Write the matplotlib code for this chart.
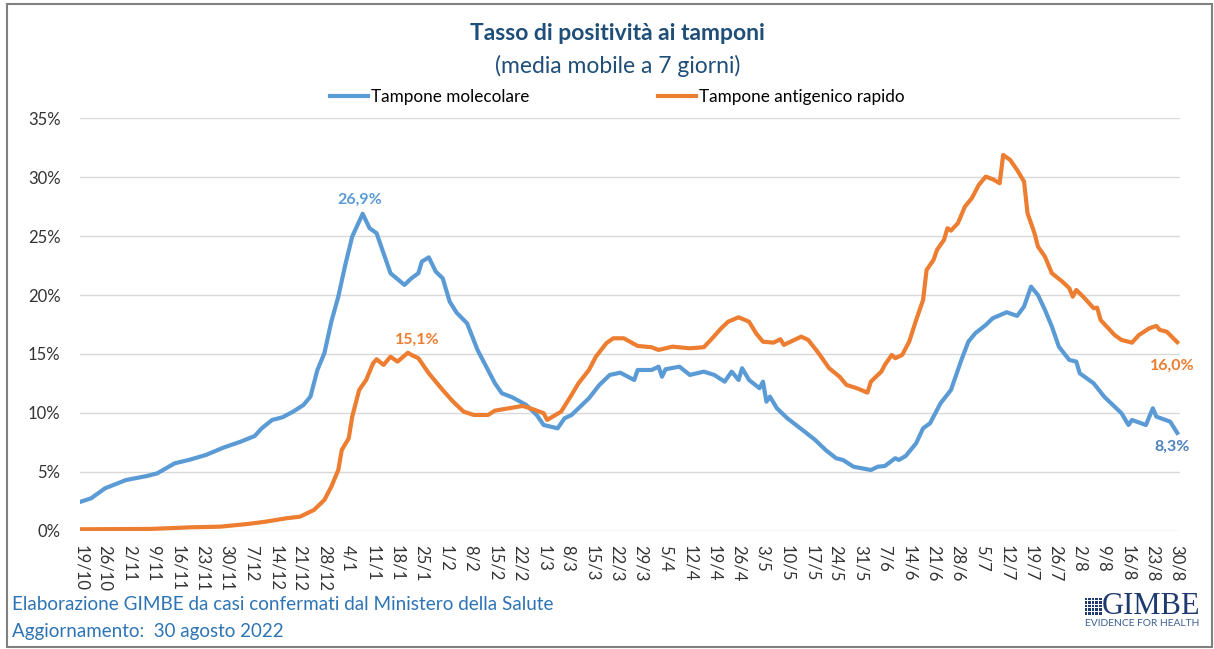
import matplotlib
matplotlib.use("Agg")
import matplotlib.pyplot as plt
from matplotlib.patches import Rectangle

plt.rcParams['font.family'] = ['Lato', 'DejaVu Sans']

# asse x: giorni dal 19/10/2021 al 30/08/2022, etichette settimanali
tick_labels = ["19/10", "26/10", "2/11", "9/11", "16/11", "23/11", "30/11", "7/12",
               "14/12", "21/12", "28/12", "4/1", "11/1", "18/1", "25/1", "1/2", "8/2",
               "15/2", "22/2", "1/3", "8/3", "15/3", "22/3", "29/3", "5/4", "12/4",
               "19/4", "26/4", "3/5", "10/5", "17/5", "24/5", "31/5", "7/6", "14/6",
               "21/6", "28/6", "5/7", "12/7", "19/7", "26/7", "2/8", "9/8", "16/8",
               "23/8", "30/8"]

# tampone molecolare (giorno, %)
mol_days = [0, 3, 7, 13, 19, 22, 27, 31, 36, 41, 46, 50, 52, 55, 58, 61, 64, 66, 68, 70,
            72, 74, 76, 78, 81, 83, 85, 87, 89, 93, 95, 97, 98, 100, 102, 104, 106, 108,
            111, 114, 117, 119, 121, 124, 128, 131, 133, 137, 139, 141, 144, 146, 149,
            152, 155, 159, 160, 164, 166, 167, 168, 172, 175, 179, 182, 185, 187, 189,
            190, 192, 195, 196, 197, 198, 200, 203, 208, 211, 214, 217, 219, 222, 227,
            229, 231, 234, 235, 237, 240, 242, 244, 247, 250, 253, 255, 257, 260, 262,
            266, 269, 271, 273, 275, 277, 279, 281, 284, 286, 287, 291, 294, 296, 299,
            301, 302, 306, 308, 309, 313, 315]
mol_vals = [2.46, 2.75, 3.6, 4.3, 4.64, 4.87, 5.72, 6.0, 6.43, 7.05, 7.56, 8.04, 8.69, 9.4,
            9.63, 10.1, 10.67, 11.38, 13.64, 15.06, 17.74, 19.86, 22.55, 24.96, 26.9,
            25.67, 25.25, 23.55, 21.85, 20.86, 21.42, 21.85, 22.84, 23.2, 21.99, 21.42,
            19.44, 18.5, 17.6, 15.34, 13.64, 12.51, 11.66, 11.32, 10.67, 9.82, 8.97, 8.69,
            9.54, 9.82, 10.67, 11.24, 12.37, 13.22, 13.41, 12.79, 13.64, 13.64, 13.92,
            13.07, 13.7, 13.92, 13.22, 13.5, 13.22, 12.65, 13.5, 12.79, 13.79, 12.79,
            12.09, 12.65, 10.95, 11.38, 10.39, 9.54, 8.4, 7.7, 6.85, 6.15, 6.0, 5.43, 5.15,
            5.43, 5.49, 6.15, 6.0, 6.34, 7.42, 8.69, 9.12, 10.81, 11.94, 14.49, 16.04,
            16.76, 17.46, 18.03, 18.54, 18.23, 19.02, 20.71, 20.0, 18.74, 17.32, 15.62,
            14.49, 14.35, 13.36, 12.51, 11.38, 10.81, 9.97, 8.97, 9.4, 8.97, 10.39, 9.68,
            9.25, 8.3]

# tampone antigenico rapido (giorno, %)
ant_days = [0, 20, 32, 40, 48, 53, 59, 63, 67, 70, 72, 74, 75, 77, 78, 80, 82, 84, 85, 87,
            89, 91, 94, 95, 97, 100, 104, 107, 110, 113, 117, 119, 123, 127, 130, 133,
            134, 138, 141, 143, 146, 148, 151, 153, 156, 160, 164, 166, 170, 175, 179,
            181, 184, 186, 189, 192, 194, 196, 199, 201, 202, 207, 209, 212, 215, 218,
            220, 223, 226, 227, 230, 231, 233, 234, 236, 238, 240, 242, 243, 245, 246,
            248, 249, 250, 252, 254, 256, 258, 260, 262, 264, 265, 267, 269, 271, 272,
            274, 275, 277, 279, 282, 284, 285, 286, 288, 291, 292, 293, 297, 299, 302,
            304, 307, 309, 310, 312, 315]
ant_vals = [0.12, 0.15, 0.29, 0.34, 0.57, 0.76, 1.05, 1.19, 1.76, 2.61, 3.74, 5.15, 6.85,
            7.84, 9.68, 11.94, 12.79, 14.21, 14.55, 14.07, 14.77, 14.35, 15.1, 14.92,
            14.64, 13.36, 11.94, 10.95, 10.1, 9.82, 9.82, 10.19, 10.39, 10.59, 10.3, 9.97,
            9.4, 10.1, 11.52, 12.51, 13.64, 14.77, 15.91, 16.33, 16.33, 15.68, 15.57,
            15.34, 15.62, 15.48, 15.57, 16.19, 17.18, 17.74, 18.11, 17.74, 16.76, 16.04,
            15.96, 16.25, 15.77, 16.47, 16.19, 15.06, 13.79, 13.07, 12.37, 12.09, 11.72,
            12.65, 13.5, 14.07, 14.92, 14.64, 14.92, 16.04, 17.88, 19.58, 22.13, 22.98,
            23.83, 24.68, 25.67, 25.47, 26.1, 27.5, 28.22, 29.35, 30.05, 29.83, 29.49,
            31.89, 31.47, 30.62, 29.63, 26.94, 25.25, 24.11, 23.26, 21.85, 21.14, 20.58,
            19.86, 20.43, 19.86, 18.88, 18.93, 17.88, 16.61, 16.19, 15.96, 16.61, 17.18,
            17.38, 17.04, 16.89, 16.0]

blue = "#5b9bd5"
orange = "#ed7d31"
navy = "#1f4e79"

fig = plt.figure(figsize=(12.14, 6.49), dpi=100)
ax = fig.add_axes([80 / 1214, 1 - 530.7 / 649, 1100 / 1214, (530.7 - 118.3) / 649])

l1, = ax.plot(mol_days, mol_vals, color=blue, lw=3, solid_joinstyle='round')
l2, = ax.plot(ant_days, ant_vals, color=orange, lw=3, solid_joinstyle='round')

ax.set_xlim(-0.2, 315.8)
ax.set_ylim(0, 35)
ax.set_yticks(range(0, 36, 5))
ax.set_yticklabels([f"{v}%" for v in range(0, 36, 5)])
ax.set_xticks(range(0, 316, 7))
ax.set_xticklabels(tick_labels, rotation=-90, va='top', ha='center')
ax.tick_params(axis='both', length=0, labelsize=12, labelcolor='#333333')
ax.tick_params(axis='y', pad=14)
ax.tick_params(axis='x', pad=10)
ax.grid(axis='y', color='#d9d9d9', lw=1)
ax.set_axisbelow(True)
for s in ax.spines.values():
    s.set_visible(False)

# etichette dei valori
ax.annotate("26,9%", (81, 26.9), xytext=(-2, 10), textcoords='offset points',
            ha='center', va='center', color=blue, fontsize=11.5, fontweight='bold')
ax.annotate("15,1%", (94, 15.1), xytext=(7, 9.5), textcoords='offset points',
            ha='center', va='center', color=orange, fontsize=11.5, fontweight='bold')
ax.annotate("16,0%", (315, 16.0), xytext=(-3.5, -17), textcoords='offset points',
            ha='center', va='center', color=orange, fontsize=11.5, fontweight='bold')
ax.annotate("8,3%", (315, 8.3), xytext=(-4, -10), textcoords='offset points',
            ha='center', va='center', color="#4f81bd", fontsize=11.5, fontweight='bold')

# titolo e legenda
fig.text(0.5087, 1 - 33 / 649, "Tasso di positività ai tamponi", ha='center', va='center',
         fontsize=16.5, fontweight='bold', color=navy)
fig.text(0.5087, 1 - 66 / 649, "(media mobile a 7 giorni)", ha='center', va='center',
         fontsize=16.5, color=navy)
fig.legend([l1, l2], ["Tampone molecolare", "Tampone antigenico rapido"], loc='center',
           bbox_to_anchor=(0.5087, 1 - 97 / 649), ncol=2, frameon=False, fontsize=12.3,
           handlelength=2.2, handletextpad=0.2, columnspacing=7.5)

# note in basso
fig.text(12 / 1214, 1 - 605 / 649, "Elaborazione GIMBE da casi confermati dal Ministero della Salute",
         ha='left', va='center', fontsize=13.6, color="#2e74b5")
fig.text(12 / 1214, 1 - 631 / 649, "Aggiornamento:  30 agosto 2022",
         ha='left', va='center', fontsize=13.5, color="#2e74b5")

# logo GIMBE
fig.text(1102 / 1214, 1 - 606 / 649, "GIMBE", ha='left', va='center', fontsize=22,
         family='Liberation Serif', color="#1f3a6e")
fig.text(1142 / 1214, 1 - 623 / 649, "EVIDENCE FOR HEALTH", ha='center', va='center',
         fontsize=7.4, color="#3c5f96")
ix, iy, isz = 1084, 597, 18
for i in range(5):
    for j in range(5):
        fig.patches.append(Rectangle(((ix + i * isz / 5 + 0.5) / 1214, 1 - (iy + (j + 1) * isz / 5 - 0.5) / 649),
                                     (isz / 5 - 1) / 1214, (isz / 5 - 1) / 649,
                                     transform=fig.transFigure, color="#1f3a6e", lw=0))

# cornice
fig.patches.append(Rectangle((7 / 1214, 2 / 649), 1205 / 1214, 643 / 649, transform=fig.transFigure,
                             fill=False, edgecolor='#808080', lw=1.5))

fig.savefig("out.png", dpi=100)
